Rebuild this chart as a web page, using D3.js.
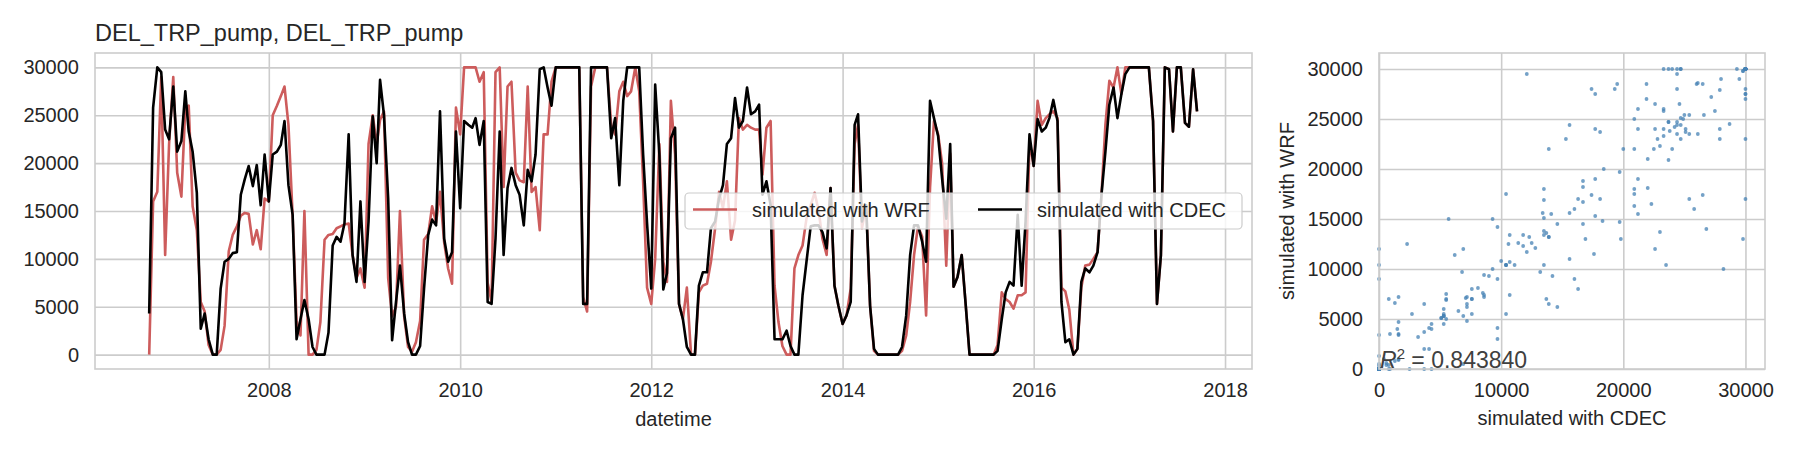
<!DOCTYPE html>
<html>
<head>
<meta charset="utf-8">
<script src="https://cdn.jsdelivr.net/npm/d3@7"></script>
<style>
body { margin: 0; background: #ffffff; }
text { font-family: "Liberation Sans", Arial, sans-serif; }
</style>
</head>
<body>
<div id="chart"></div>
<script>
// series sampled twice a month (1st and 16th), Oct 2006 - Sep 2017
const seriesStart = [2006, 9];
const cdec = [
  4300, 25800, 30000, 29500, 23500, 22500, 28000, 21200, 22300, 27500, 23300, 21200,
  16900, 2700, 4300, 1600, 0, 0, 6900, 9700, 10000, 10600, 10700, 16700,
  18300, 19700, 17600, 19800, 15600, 20900, 16000, 20900, 21200, 21900, 24400, 17700,
  14600, 1600, 3700, 5700, 3700, 800, 0, 0, 0, 2300, 11400, 12300,
  11800, 13700, 23000, 10400, 7600, 16000, 7600, 13900, 24900, 20000, 28700, 25000,
  16300, 1500, 5500, 9300, 4300, 1300, 0, 0, 900, 6900, 12500, 14100,
  13500, 25400, 12100, 9700, 10700, 23300, 15300, 24400, 24000, 23700, 24700, 21900,
  24400, 5500, 5300, 12100, 23300, 10400, 17400, 19500, 17700, 16700, 13500, 19300,
  18100, 20900, 29800, 30000, 27900, 26000, 30000, 30000, 30000, 30000, 30000, 30000,
  30000, 5300, 5300, 30000, 30000, 30000, 30000, 30000, 22600, 24700, 17700, 26500,
  30000, 30000, 30000, 30000, 20900, 13700, 6900, 28200, 20900, 6800, 8500, 22600,
  23700, 5300, 3700, 800, 0, 0, 7200, 8600, 8600, 13200, 13900, 16300,
  17700, 22000, 22600, 26800, 23700, 24400, 27900, 25100, 25400, 26100, 16700, 18100,
  15600, 1600, 1600, 1600, 2500, 900, 0, 0, 6200, 9700, 13400, 13500,
  13500, 12800, 11100, 17400, 7200, 5100, 3200, 4100, 5500, 24000, 25100, 13900,
  15600, 5100, 600, 0, 0, 0, 0, 0, 0, 800, 4100, 10400,
  13500, 13500, 11800, 9700, 26500, 24700, 22800, 18400, 14200, 22000, 7100, 8100,
  10400, 5300, 0, 0, 0, 0, 0, 0, 0, 400, 3700, 6500,
  7600, 7200, 14600, 7200, 13900, 23000, 19700, 24600, 23300, 23700, 24700, 26600,
  24400, 5500, 1300, 1600, 0, 600, 7600, 9000, 8600, 9300, 10700, 16700,
  21200, 26100, 27900, 24700, 27200, 29300, 30000, 30000, 30000, 30000, 30000, 30000,
  24400, 5300, 10400, 30000, 29800, 23300, 30000, 30000, 24200, 23800, 29800, 25400
];
const wrf = [
  0, 16000, 17000, 29000, 10400, 22000, 29000, 19000, 16500, 25800, 26000, 15500,
  13000, 5500, 4500, 1000, 0, 0, 500, 3000, 10800, 12500, 13400, 14500,
  14800, 14700, 11500, 13000, 11000, 16300, 16000, 25000, 26000, 27000, 28000, 24000,
  14500, 3500, 2000, 15000, 0, 0, 500, 3400, 12000, 12500, 12600, 13200,
  13400, 13600, 13700, 10400, 8000, 9000, 7000, 22000, 25000, 22000, 24500, 25400,
  8000, 4000, 5000, 15000, 4000, 800, 300, 1300, 3500, 12000, 12600, 15500,
  13800, 17000, 11700, 9000, 7400, 25800, 23000, 30000, 30000, 30000, 30000, 28500,
  29500, 7500, 5500, 29500, 30000, 17500, 28000, 28500, 19000, 18200, 18000, 28000,
  17000, 17500, 13000, 23000, 23000, 28500, 30000, 30000, 30000, 30000, 30000, 30000,
  30000, 6000, 4500, 28000, 30000, 30000, 30000, 30000, 24000, 23000, 27500, 28500,
  27000, 27500, 30000, 27500, 18000, 7000, 5300, 10000, 22000, 9700, 7600, 26500,
  20900, 5300, 3700, 7000, 0, 0, 6500, 7200, 7400, 9700, 13200, 17000,
  15300, 18100, 12000, 14000, 24700, 23500, 24000, 23700, 23500, 23500, 18800, 23700,
  24400, 7200, 3400, 900, 0, 0, 9000, 10400, 11400, 14200, 15600, 16900,
  15100, 12100, 10400, 17400, 7200, 5100, 3200, 4100, 6900, 22000, 24000, 13200,
  15600, 5100, 400, 0, 0, 0, 0, 0, 0, 400, 2000, 5500,
  10400, 13400, 12300, 4100, 17400, 24400, 23000, 20000, 9300, 21000, 7100, 8100,
  10400, 5300, 0, 0, 0, 0, 0, 0, 0, 1000, 6500, 5800,
  5500, 4800, 6200, 6200, 6500, 22300, 19700, 26500, 24000, 24700, 25100, 25400,
  24700, 7000, 6600, 4700, 0, 600, 7000, 9300, 9400, 10000, 10700, 16700,
  24000, 28600, 27900, 30000, 27200, 30000, 30000, 30000, 30000, 30000, 30000, 30000,
  24400, 5300, 10400, 30000, 29800, 23300, 30000, 30000, 24200, 23800, 29800, 25400
];
const yTicks = [0, 5000, 10000, 15000, 20000, 25000, 30000];
const yearTicks = [2008, 2010, 2012, 2014, 2016, 2018];
const scatterXTicks = [0, 10000, 20000, 30000];
const titleText = "DEL_TRP_pump, DEL_TRP_pump";
const r2Value = "0.843840";

const dates = cdec.map((_, i) =>
    new Date(seriesStart[0], seriesStart[1] + Math.floor(i / 2), i % 2 ? 16 : 1));

const textColor = "#262626";
const gridColor = "#cccccc";

const svg = d3.select("#chart")
    .append("svg")
    .attr("width", 1800)
    .attr("height", 450)
    .style("background-color", "#ffffff");

// style an axis group as seaborn whitegrid (grid lines, no ticks, no domain)
function styleAxis(g) {
    g.select(".domain").remove();
    g.attr("font-family", null).attr("font-size", null);
    g.selectAll("line").attr("stroke", gridColor).attr("stroke-width", 1.6);
    g.selectAll("text").attr("fill", textColor).attr("font-size", 20);
}

// ---------- left panel: time series ----------
const ts = { left: 95, right: 1252, top: 53, bottom: 369 };

const x = d3.scaleTime()
    .domain([new Date(2006, 2, 8), new Date(2018, 3, 14)])
    .range([ts.left, ts.right]);
const y = d3.scaleLinear()
    .domain([-1500, 31500])
    .range([ts.bottom, ts.top]);

svg.append("g")
    .attr("transform", `translate(0,${ts.bottom})`)
    .call(d3.axisBottom(x)
        .tickValues(yearTicks.map(yr => new Date(yr, 0, 1)))
        .tickFormat(d3.timeFormat("%Y"))
        .tickSize(-(ts.bottom - ts.top))
        .tickPadding(14))
    .call(styleAxis);

svg.append("g")
    .attr("transform", `translate(${ts.left},0)`)
    .call(d3.axisLeft(y)
        .tickValues(yTicks)
        .tickFormat(d3.format("d"))
        .tickSize(-(ts.right - ts.left))
        .tickPadding(16))
    .call(styleAxis);

const line = d3.line()
    .x((d, i) => x(dates[i]))
    .y(d => y(d));

svg.append("path")
    .datum(wrf)
    .attr("d", line)
    .attr("fill", "none")
    .attr("stroke", "#cd5c5c")
    .attr("stroke-width", 2.6)
    .attr("stroke-linejoin", "round");

svg.append("path")
    .datum(cdec)
    .attr("d", line)
    .attr("fill", "none")
    .attr("stroke", "#000000")
    .attr("stroke-width", 2.6)
    .attr("stroke-linejoin", "round");

svg.append("rect")
    .attr("x", ts.left).attr("y", ts.top)
    .attr("width", ts.right - ts.left).attr("height", ts.bottom - ts.top)
    .attr("fill", "none").attr("stroke", gridColor).attr("stroke-width", 1.6);

svg.append("text")
    .attr("x", ts.left).attr("y", 41)
    .attr("font-size", 23.5).attr("fill", textColor)
    .text(titleText);

svg.append("text")
    .attr("x", (ts.left + ts.right) / 2).attr("y", 426)
    .attr("text-anchor", "middle")
    .attr("font-size", 20).attr("fill", textColor)
    .text("datetime");

// legend
const legend = svg.append("g");
legend.append("rect")
    .attr("x", 685).attr("y", 193)
    .attr("width", 557).attr("height", 36)
    .attr("rx", 4).attr("ry", 4)
    .attr("fill", "#ffffff").attr("fill-opacity", 0.8)
    .attr("stroke", gridColor).attr("stroke-width", 1.2);

const legendItems = [
    { label: "simulated with WRF", color: "#cd5c5c", x: 693 },
    { label: "simulated with CDEC", color: "#000000", x: 978 }
];
legendItems.forEach(item => {
    legend.append("line")
        .attr("x1", item.x).attr("x2", item.x + 44)
        .attr("y1", 209.5).attr("y2", 209.5)
        .attr("stroke", item.color).attr("stroke-width", 2.6);
    legend.append("text")
        .attr("x", item.x + 59).attr("y", 216.5)
        .attr("font-size", 20).attr("fill", textColor)
        .text(item.label);
});

// ---------- right panel: scatter ----------
const sc = { left: 1379, right: 1765, top: 53, bottom: 369 };

const sx = d3.scaleLinear().domain([0, 31600]).range([sc.left, sc.right]);
const sy = d3.scaleLinear().domain([0, 31600]).range([sc.bottom, sc.top]);

svg.append("g")
    .attr("transform", `translate(0,${sc.bottom})`)
    .call(d3.axisBottom(sx)
        .tickValues(scatterXTicks)
        .tickFormat(d3.format("d"))
        .tickSize(-(sc.bottom - sc.top))
        .tickPadding(14))
    .call(styleAxis);

svg.append("g")
    .attr("transform", `translate(${sc.left},0)`)
    .call(d3.axisLeft(sy)
        .tickValues(yTicks)
        .tickFormat(d3.format("d"))
        .tickSize(-(sc.right - sc.left))
        .tickPadding(16))
    .call(styleAxis);

svg.append("g")
    .selectAll("circle")
    .data(cdec.map((c, i) => [c, wrf[i]]))
    .join("circle")
    .attr("cx", d => sx(d[0]))
    .attr("cy", d => sy(d[1]))
    .attr("r", 1.9)
    .attr("fill", "#4682b4")
    .attr("fill-opacity", 0.75);

svg.append("rect")
    .attr("x", sc.left).attr("y", sc.top)
    .attr("width", sc.right - sc.left).attr("height", sc.bottom - sc.top)
    .attr("fill", "none").attr("stroke", gridColor).attr("stroke-width", 1.6);

const r2 = svg.append("text")
    .attr("x", sc.left + 1).attr("y", 368)
    .attr("font-size", 23).attr("fill", "#404040");
r2.append("tspan").attr("font-style", "italic").text("R");
r2.append("tspan").attr("font-size", 15).attr("dy", -9).text("2");
r2.append("tspan").attr("dy", 9).text(" = " + r2Value);

svg.append("text")
    .attr("x", (sc.left + sc.right) / 2).attr("y", 425)
    .attr("text-anchor", "middle")
    .attr("font-size", 20).attr("fill", textColor)
    .text("simulated with CDEC");

svg.append("text")
    .attr("transform", `translate(1293.5,${(sc.top + sc.bottom) / 2}) rotate(-90)`)
    .attr("text-anchor", "middle")
    .attr("font-size", 20).attr("fill", textColor)
    .text("simulated with WRF");
</script>
</body>
</html>
